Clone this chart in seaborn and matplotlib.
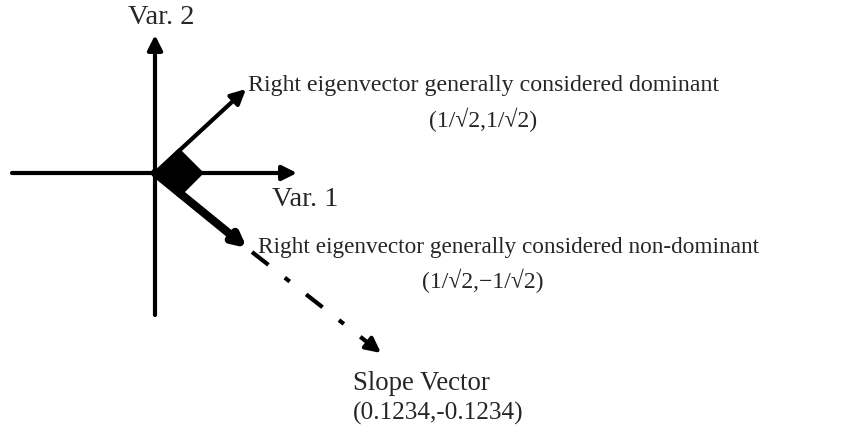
import seaborn as sns
import matplotlib.pyplot as plt
import numpy as np

sns.set_theme(style='white')
plt.rcParams['font.family'] = ['Liberation Serif', 'DejaVu Serif']

# Diagram geometry (origin at axes crossing, y up, units ~ pixels)
h_axis = [-143, 142]
v_axis = [-142, 138]
dominant = [91, 84]
non_dominant = [92, -75]
slope_start = [97, -79]
slope_end = [226, -180]
square_x = [0, 24, 48, 24]
square_y = [0, 24, 0, -24]

dom_label = 'Right eigenvector generally considered dominant'
dom_vec = '(1/\u221a2,1/\u221a2)'
nondom_label = 'Right eigenvector generally considered non-dominant'
nondom_vec = '(1/\u221a2,\u22121/\u221a2)'
slope_label = 'Slope Vector'
slope_vec = '(0.1234,-0.1234)'

fig = plt.figure(figsize=(8.63, 4.32), dpi=100)
ax = fig.add_axes([0, 0, 1, 1])
ax.set_xlim(-155, 708)
ax.set_ylim(-259, 173)
ax.axis('off')

head = dict(arrowstyle='-|>', color='black', mutation_scale=22, shrinkA=0, shrinkB=0)

# axes of the variable space
ax.annotate('', xy=(h_axis[1], 0), xytext=(h_axis[0], 0), arrowprops=dict(head, lw=3))
ax.annotate('', xy=(0, v_axis[1]), xytext=(0, v_axis[0]), arrowprops=dict(head, lw=3))

# eigenvectors
ax.annotate('', xy=dominant, xytext=(0, 0), arrowprops=dict(head, lw=3))
ax.annotate('', xy=non_dominant, xytext=(0, 0), arrowprops=dict(head, lw=6, mutation_scale=18))

# right-angle marker
ax.fill(square_x, square_y, color='black')

# slope vector (dash-dot with solid head)
sv = np.array([slope_start, slope_end], dtype=float)
d = sv[1] - sv[0]
ax.plot(sv[:, 0], sv[:, 1], color='black', lw=3, linestyle=(0, (5, 5, 1.5, 5)))
ax.annotate('', xy=sv[1], xytext=sv[1] - d * 0.1, arrowprops=dict(head, lw=3))

ax.text(-27, 155, 'Var. 2', fontsize=20.5, va='center', ha='left')
ax.text(117, -27, 'Var. 1', fontsize=20.5, va='center', ha='left')
ax.text(93, 88, dom_label, fontsize=17.2, va='center', ha='left')
ax.text(328, 53, dom_vec, fontsize=17, va='center', ha='center')
ax.text(103, -75, nondom_label, fontsize=16.75, va='center', ha='left')
ax.text(328, -108, nondom_vec, fontsize=17, va='center', ha='center')
ax.text(198, -211, slope_label, fontsize=19.3, va='center', ha='left')
ax.text(198, -240, slope_vec, fontsize=18.2, va='center', ha='left')

fig.savefig('out.png', dpi=100, facecolor='white')
